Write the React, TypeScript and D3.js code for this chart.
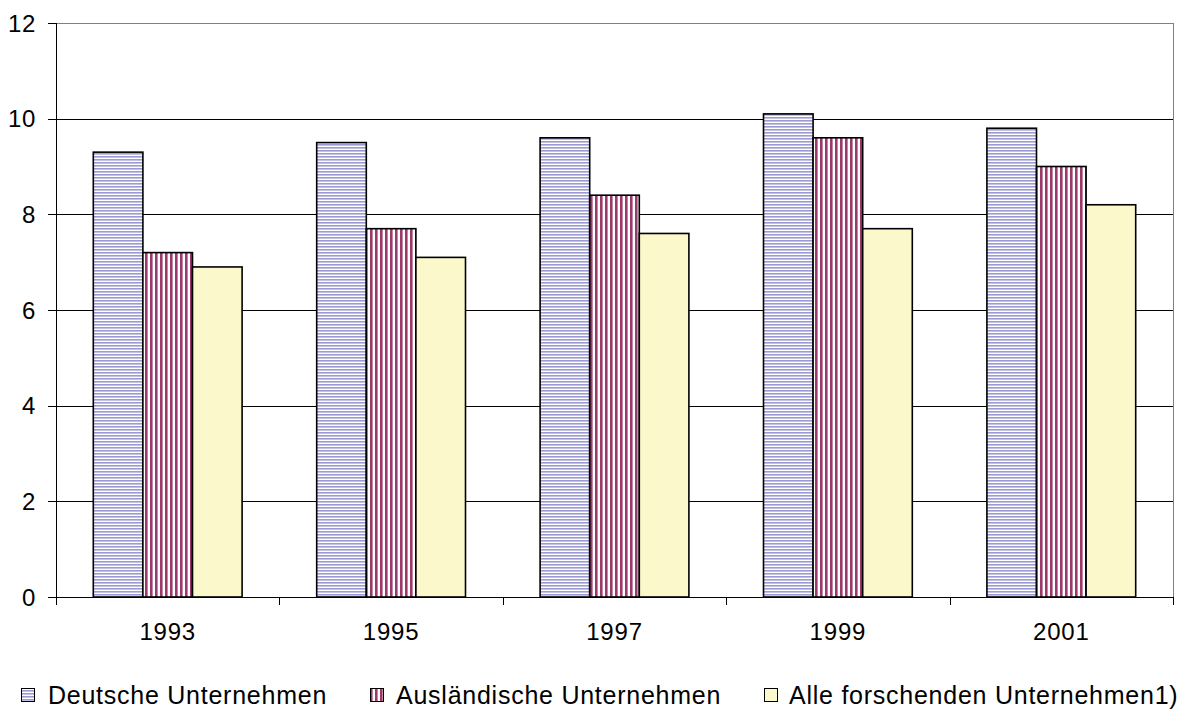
import React from "react";
import * as d3 from "d3";

const categories = ["1993", "1995", "1997", "1999", "2001"];
const seriesNames = ["Deutsche Unternehmen", "Ausländische Unternehmen", "Alle forschenden Unternehmen1)"];
const deutsche = [9.3, 9.5, 9.6, 10.1, 9.8];
const auslaendische = [7.2, 7.7, 8.4, 9.6, 9.0];
const alle = [6.9, 7.1, 7.6, 7.7, 8.2];
const yTicks = [0, 2, 4, 6, 8, 10, 12];

const W = 1179, H = 709;
const left = 56, right = 1173, top = 23, bottom = 597;
const fills = ["url(#hlines)", "url(#vlines)", "#fbf8cc"];
const font = "'Liberation Sans', Arial, sans-serif";

export default function App() {
  const series = [deutsche, auslaendische, alle];
  const x0 = d3.scaleBand<string>().domain(categories).range([left, right]).paddingInner(0).paddingOuter(0);
  const y = d3.scaleLinear().domain([0, 12]).range([bottom, top]);
  const bw = 49.6;
  const groupW = bw * 3;
  const swatchX = [21, 370, 764];
  const textX = [48, 396, 789];
  return (
    <svg width={W} height={H} style={{ position: "absolute", left: 0, top: 0 }} fontFamily={font}>
      <defs>
        <pattern id="hlines" width="4" height="3" patternUnits="userSpaceOnUse">
          <rect width="4" height="3" fill="#ffffff" />
          <rect width="4" height="1.6" fill="#9c9ad2" />
        </pattern>
        <pattern id="vlines" width="5" height="4" patternUnits="userSpaceOnUse">
          <rect width="5" height="4" fill="#ffffff" />
          <rect width="2.6" height="4" fill="#9b3a6a" />
        </pattern>
      </defs>
      <rect x={0} y={0} width={W} height={H} fill="#fff" />
      {yTicks.map(t => (
        <line key={t} x1={left} x2={right} y1={Math.round(y(t)) + 0.5} y2={Math.round(y(t)) + 0.5}
          stroke={t === 12 ? "#808080" : "#000"} strokeWidth={1} />
      ))}
      <line x1={right + 0.5} x2={right + 0.5} y1={top} y2={bottom} stroke="#808080" />
      {categories.map((c, i) => {
        const cx = x0(c)! + x0.bandwidth() / 2;
        return series.map((s, k) => {
          const bx = cx - groupW / 2 + k * bw;
          return (
            <rect key={c + k} x={bx} y={y(s[i])} width={bw} height={bottom - y(s[i])}
              fill={fills[k]} stroke="#000" strokeWidth={1.6} />
          );
        });
      })}
      <line x1={left + 0.5} x2={left + 0.5} y1={top} y2={bottom + 8} stroke="#000" />
      <line x1={left} x2={right} y1={Math.round(y(0)) + 0.5} y2={Math.round(y(0)) + 0.5} stroke="#000" />
      {yTicks.map(t => (
        <g key={"yt" + t}>
          <line x1={left - 8} x2={left} y1={Math.round(y(t)) + 0.5} y2={Math.round(y(t)) + 0.5} stroke="#000" />
          <text x={36} y={y(t) + 8.5} textAnchor="end" fontSize={24} letterSpacing={0.6}>{t}</text>
        </g>
      ))}
      {categories.map((c, i) => (
        <g key={"xt" + c}>
          <line x1={Math.round(x0(c)! + x0.bandwidth()) + 0.5} x2={Math.round(x0(c)! + x0.bandwidth()) + 0.5}
            y1={bottom} y2={bottom + 8} stroke="#000" />
          <text x={x0(c)! + x0.bandwidth() / 2} y={639.5} textAnchor="middle" fontSize={24} letterSpacing={0.8}>{c}</text>
        </g>
      ))}
      {seriesNames.map((n, k) => (
        <g key={n}>
          <rect x={swatchX[k] + 0.5} y={688.5} width={13} height={13} fill={fills[k]} stroke="#000" strokeWidth={1} />
          <text x={textX[k]} y={704} fontSize={25} letterSpacing={0.75}>{n}</text>
        </g>
      ))}
    </svg>
  );
}
